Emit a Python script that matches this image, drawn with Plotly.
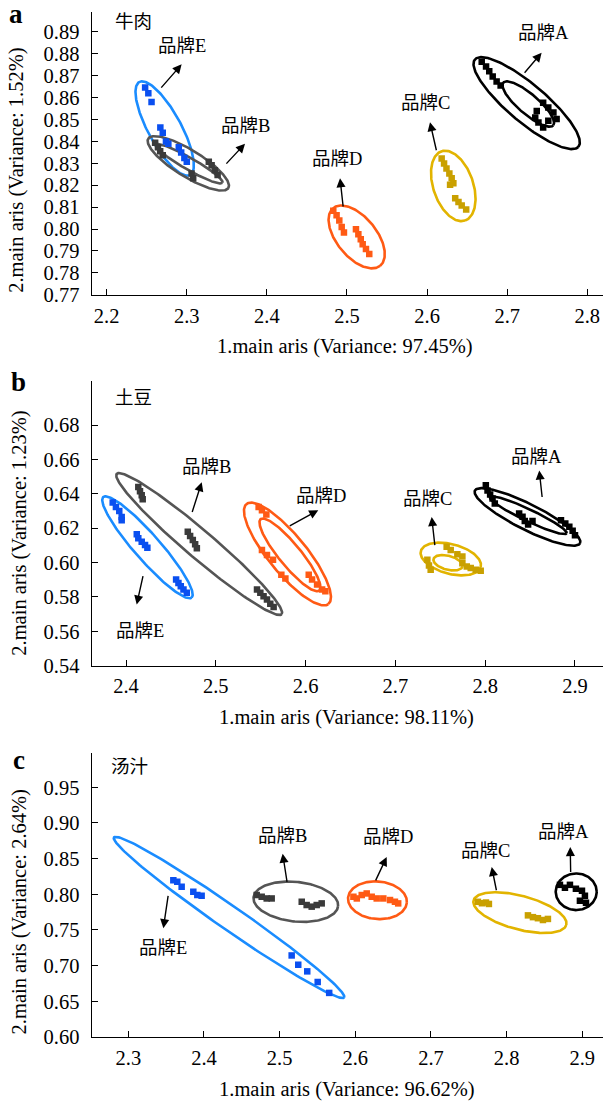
import numpy as np
import plotly.graph_objects as go

# ---------------- data ----------------
# Panel a : 牛肉
a_A_x = [2.6682, 2.6736, 2.6776, 2.6819, 2.6868, 2.6918, 2.7449, 2.7513, 2.7577, 2.7369, 2.7350, 2.7390, 2.7449, 2.7617, 2.7513]
a_A_y = [0.8764, 0.8742, 0.8720, 0.8697, 0.8674, 0.8655, 0.8577, 0.8555, 0.8532, 0.8539, 0.8509, 0.8487, 0.8464, 0.8502, 0.8495]
a_B_x = [2.2605, 2.2640, 2.2668, 2.2700, 2.3060, 2.3080, 2.3275, 2.3310, 2.3350, 2.3385]
a_B_y = [0.8394, 0.8374, 0.8355, 0.8337, 0.8254, 0.8232, 0.8307, 0.8291, 0.8269, 0.8247]
a_C_x = [2.6182, 2.6212, 2.6242, 2.6278, 2.6307, 2.6328, 2.6287, 2.6351, 2.6392, 2.6432, 2.6488]
a_C_y = [0.8322, 0.8299, 0.8277, 0.8254, 0.8232, 0.8209, 0.8202, 0.8141, 0.8123, 0.8108, 0.8089]
a_D_x = [2.4829, 2.4870, 2.4904, 2.4934, 2.4962, 2.5112, 2.5142, 2.5172, 2.5196, 2.5237, 2.5278]
a_D_y = [0.8084, 0.8063, 0.8039, 0.8009, 0.7984, 0.7999, 0.7976, 0.7954, 0.7931, 0.7909, 0.7886]
a_E_x = [2.2480, 2.2520, 2.2560, 2.2670, 2.2700, 2.2740, 2.2770, 2.2900, 2.2930, 2.2970, 2.3000]
a_E_y = [0.8646, 0.8620, 0.8580, 0.8464, 0.8440, 0.8400, 0.8390, 0.8374, 0.8350, 0.8325, 0.8307]

# Panel b : 土豆
b_A_x = [2.8007, 2.8026, 2.8055, 2.8082, 2.8107, 2.8378, 2.8416, 2.8441, 2.8478, 2.8527, 2.8844, 2.8892, 2.8937, 2.8974, 2.9000]
b_A_y = [0.6450, 0.6420, 0.6396, 0.6373, 0.6344, 0.6286, 0.6267, 0.6242, 0.6222, 0.6242, 0.6247, 0.6228, 0.6209, 0.6185, 0.6160]
b_B_x = [2.4137, 2.4156, 2.4175, 2.4186, 2.4688, 2.4714, 2.4744, 2.4770, 2.4789, 2.5459, 2.5496, 2.5532, 2.5570, 2.5607, 2.5644]
b_B_y = [0.6440, 0.6415, 0.6392, 0.6369, 0.6180, 0.6155, 0.6132, 0.6107, 0.6084, 0.5843, 0.5824, 0.5804, 0.5785, 0.5760, 0.5741]
b_C_x = [2.7356, 2.7374, 2.7393, 2.7571, 2.7616, 2.7690, 2.7746, 2.7746, 2.7795, 2.7839, 2.7895, 2.7950]
b_C_y = [0.6016, 0.5983, 0.5958, 0.6093, 0.6074, 0.6049, 0.6035, 0.5997, 0.5978, 0.5968, 0.5958, 0.5953]
b_D_x = [2.5477, 2.5514, 2.5563, 2.5514, 2.5570, 2.5637, 2.5730, 2.5775, 2.6035, 2.6072, 2.6128, 2.6184, 2.6220]
b_D_y = [0.6324, 0.6305, 0.6280, 0.6074, 0.6045, 0.6016, 0.5930, 0.5907, 0.5930, 0.5901, 0.5872, 0.5843, 0.5833]
b_E_x = [2.3852, 2.3888, 2.3925, 2.3952, 2.3952, 2.4120, 2.4137, 2.4175, 2.4212, 2.4238, 2.4558, 2.4584, 2.4610, 2.4640, 2.4677]
b_E_y = [0.6350, 0.6324, 0.6300, 0.6266, 0.6247, 0.6165, 0.6142, 0.6122, 0.6103, 0.6087, 0.5901, 0.5882, 0.5862, 0.5843, 0.5824]

# Panel c : 汤汁
c_A_x = [2.8705, 2.8771, 2.8837, 2.8916, 2.8996, 2.9035, 2.8969, 2.9049]
c_A_y = [0.8133, 0.8092, 0.8133, 0.8078, 0.8050, 0.7980, 0.7910, 0.7882]
c_B_x = [2.4697, 2.4763, 2.4829, 2.4895, 2.5292, 2.5357, 2.5424, 2.5490, 2.5556]
c_B_y = [0.7990, 0.7966, 0.7942, 0.7942, 0.7896, 0.7850, 0.7827, 0.7850, 0.7873]
c_C_x = [2.7621, 2.7674, 2.7727, 2.7766, 2.8282, 2.8348, 2.8414, 2.8480, 2.8546]
c_C_y = [0.7895, 0.7875, 0.7885, 0.7865, 0.7705, 0.7680, 0.7665, 0.7640, 0.7655]
c_D_x = [2.5975, 2.6020, 2.6085, 2.6151, 2.6217, 2.6283, 2.6370, 2.6459, 2.6524, 2.6567]
c_D_y = [0.7966, 0.7942, 0.7990, 0.8012, 0.7966, 0.7942, 0.7942, 0.7920, 0.7896, 0.7873]
c_E_x = [2.3595, 2.3647, 2.3705, 2.3859, 2.3912, 2.3969, 2.5159, 2.5246, 2.5365, 2.5503, 2.5655]
c_E_y = [0.8199, 0.8175, 0.8106, 0.8036, 0.7990, 0.7980, 0.7143, 0.7013, 0.6920, 0.6771, 0.6618]

brands = ["A", "B", "C", "D", "E"]
panel_keys = ["a", "b", "c"]
panel_foods = ["牛肉", "土豆", "汤汁"]
x_titles = ["1.main aris (Variance: 97.45%)", "1.main aris (Variance: 98.11%)", "1.main aris (Variance: 96.62%)"]
y_titles = ["2.main aris (Variance: 1.52%)", "2.main aris (Variance: 1.23%)", "2.main aris (Variance: 2.64%)"]

x_ticks = [[2.2, 2.3, 2.4, 2.5, 2.6, 2.7, 2.8],
           [2.4, 2.5, 2.6, 2.7, 2.8, 2.9],
           [2.3, 2.4, 2.5, 2.6, 2.7, 2.8, 2.9]]
y_ticks = [[0.77, 0.78, 0.79, 0.80, 0.81, 0.82, 0.83, 0.84, 0.85, 0.86, 0.87, 0.88, 0.89],
           [0.54, 0.56, 0.58, 0.60, 0.62, 0.64, 0.66, 0.68],
           [0.60, 0.65, 0.70, 0.75, 0.80, 0.85, 0.90, 0.95]]
x_ranges = [[2.1813, 2.8196], [2.3618, 2.9312], [2.2516, 2.9274]]
y_ranges = [[0.77, 0.8993], [0.54, 0.7056], [0.60, 0.9988]]

# confidence ellipses: brand, centre x, centre y (data), semi-axes (px), angle (deg)
ellipses = {
    "a": [("E", 2.2724, 0.8459, 53.4, 16.5, -61.7),
          ("B", 2.3019, 0.8300, 47.2, 13.5, -32.0),
          ("B", 2.3030, 0.8298, 38.4, 6.0, -30.0),
          ("D", 2.5121, 0.7964, 37.4, 20.0, -51.3),
          ("C", 2.6327, 0.8197, 36.9, 20.0, -71.6),
          ("A", 2.7243, 0.8575, 68.0, 19.0, -40.5),
          ("A", 2.7263, 0.8571, 33.0, 10.0, -40.9)],
    "b": [("B", 2.4815, 0.6108, 108.7, 14.0, -40.7),
          ("E", 2.4239, 0.6089, 67.3, 13.0, -49.0),
          ("D", 2.5798, 0.6050, 65.0, 19.0, -51.0),
          ("D", 2.5826, 0.6045, 46.5, 11.0, -51.0),
          ("C", 2.7617, 0.6021, 31.0, 15.0, -15.0),
          ("C", 2.7586, 0.5999, 15.0, 7.0, -15.0),
          ("A", 2.8471, 0.6266, 58.9, 13.0, -26.9),
          ("A", 2.8480, 0.6276, 42.5, 6.0, -25.6)],
    "c": [("E", 2.4331, 0.7676, 140.6, 12.0, -35.1),
          ("B", 2.5214, 0.7896, 42.5, 20.0, -6.0),
          ("D", 2.6293, 0.7917, 29.5, 19.0, -5.0),
          ("C", 2.8176, 0.7743, 48.0, 17.0, -15.0),
          ("A", 2.8920, 0.8036, 20.5, 18.5, 0.0)],
}

# brand labels: brand, text (x, y), arrow head (x, y), arrow tail (x, y)
labels = {
    "a": [("E", 2.2940, 0.8838, 2.2936, 0.8752, 2.2665, 0.8639),
          ("B", 2.3733, 0.8469, 2.3727, 0.8390, 2.3477, 0.8292),
          ("D", 2.4869, 0.8318, 2.4913, 0.8232, 2.4954, 0.8096),
          ("C", 2.5980, 0.8576, 2.6036, 0.8488, 2.6120, 0.8353),
          ("A", 2.7453, 0.8897, 2.7430, 0.8805, 2.7201, 0.8707)],
    "b": [("B", 2.4896, 0.6559, 2.4843, 0.6468, 2.4732, 0.6286),
          ("E", 2.4161, 0.5600, 2.4119, 0.5756, 2.4193, 0.5930),
          ("D", 2.6166, 0.6386, 2.6141, 0.6305, 2.5807, 0.6209),
          ("C", 2.7357, 0.6369, 2.7404, 0.6266, 2.7441, 0.6093),
          ("A", 2.8566, 0.6617, 2.8602, 0.6536, 2.8636, 0.6373)],
    "c": [("E", 2.3452, 0.7245, 2.3463, 0.7524, 2.3529, 0.8000),
          ("B", 2.5038, 0.8817, 2.5040, 0.8570, 2.5101, 0.8152),
          ("D", 2.6437, 0.8803, 2.6415, 0.8524, 2.6260, 0.8175),
          ("C", 2.7725, 0.8608, 2.7803, 0.8384, 2.7869, 0.8036),
          ("A", 2.8758, 0.8872, 2.8841, 0.8663, 2.8847, 0.8291)],
}
food_pos = [(2.2341, 0.8955), (2.4078, 0.6969), (2.3022, 0.9807)]

points = {
    "a": {"A": (a_A_x, a_A_y), "B": (a_B_x, a_B_y), "C": (a_C_x, a_C_y), "D": (a_D_x, a_D_y), "E": (a_E_x, a_E_y)},
    "b": {"A": (b_A_x, b_A_y), "B": (b_B_x, b_B_y), "C": (b_C_x, b_C_y), "D": (b_D_x, b_D_y), "E": (b_E_x, b_E_y)},
    "c": {"A": (c_A_x, c_A_y), "B": (c_B_x, c_B_y), "C": (c_C_x, c_C_y), "D": (c_D_x, c_D_y), "E": (c_E_x, c_E_y)},
}

# ---------------- styling / layout ----------------
W, H = 603, 1117
X_DOM = [91.7 / W, 1.0]
Y_DOMS = [[1 - 297.7 / H, 1 - 11.7 / H],
          [1 - 672.3 / H, 1 - 385.0 / H],
          [1 - 1047.3 / H, 1 - 760.0 / H]]
POINT_COL = {"A": "#000000", "B": "#3a3a3a", "C": "#c9a000", "D": "#ff5a14", "E": "#0a4ff0"}
ELL_COL = {"A": "#000000", "B": "#555555", "C": "#e2b400", "D": "#ff5a14", "E": "#1a8cff"}
SERIF = "Liberation Serif, 'Noto Sans CJK SC', serif"
MIX = "Liberation Serif, 'Noto Sans CJK SC'"

fig = go.Figure()
annotations = []
layout_axes = {}

for i, key in enumerate(panel_keys):
    xa = "x" if i == 0 else f"x{i+1}"
    ya = "y" if i == 0 else f"y{i+1}"
    xr, yr = x_ranges[i], y_ranges[i]
    sx = (X_DOM[1] - X_DOM[0]) * W / (xr[1] - xr[0])
    sy = (Y_DOMS[i][1] - Y_DOMS[i][0]) * H / (yr[1] - yr[0])
    t = np.linspace(0, 2 * np.pi, 200)
    for (br, cx, cy, ea, eb, ang) in ellipses[key]:
        th = np.deg2rad(ang)
        dx = ea * np.cos(t) * np.cos(th) - eb * np.sin(t) * np.sin(th)
        dy = ea * np.cos(t) * np.sin(th) + eb * np.sin(t) * np.cos(th)
        fig.add_trace(go.Scatter(x=cx + dx / sx, y=cy + dy / sy, mode="lines",
                                 line=dict(color=ELL_COL[br], width=2.6),
                                 xaxis=xa, yaxis=ya, showlegend=False, hoverinfo="skip"))
    for br in brands:
        px, py = points[key][br]
        fig.add_trace(go.Scatter(x=px, y=py, mode="markers",
                                 marker=dict(symbol="square", size=6.5, color=POINT_COL[br], line=dict(width=0)),
                                 xaxis=xa, yaxis=ya, showlegend=False, name="品牌" + br))
    axkey = "xaxis" if i == 0 else f"xaxis{i+1}"
    aykey = "yaxis" if i == 0 else f"yaxis{i+1}"
    common = dict(showline=True, linecolor="black", linewidth=1.3, ticks="inside", ticklen=6,
                  tickcolor="black", tickwidth=1.2, showgrid=False, zeroline=False, mirror=False,
                  tickfont=dict(family=SERIF, size=20.5, color="black"))
    layout_axes[axkey] = dict(domain=X_DOM, range=xr, anchor=ya, tickvals=x_ticks[i],
                              tickformat=".1f", ticklabelstandoff=2, **common)
    layout_axes[aykey] = dict(domain=Y_DOMS[i], range=yr, anchor=xa, tickvals=y_ticks[i],
                              tickformat=".2f", ticklabelstandoff=7, **common)

    for (br, tx, ty, hx, hy, qx, qy) in labels[key]:
        annotations.append(dict(x=tx, y=ty, xref=xa, yref=ya, text="品牌" + br, showarrow=False,
                                xanchor="center", yanchor="middle",
                                font=dict(family=MIX, size=18.5, color="black")))
        annotations.append(dict(x=hx, y=hy, ax=qx, ay=qy, xref=xa, yref=ya, axref=xa, ayref=ya,
                                text="", showarrow=True, arrowhead=2, arrowsize=1.3, arrowwidth=1.4,
                                arrowcolor="black", standoff=0, startstandoff=0))
    fx, fy = food_pos[i]
    annotations.append(dict(x=fx, y=fy, xref=xa, yref=ya, text=panel_foods[i], showarrow=False,
                            xanchor="center", yanchor="middle",
                            font=dict(family="'Noto Sans CJK SC'", size=18.5, color="black")))

# axis titles and panel letters (paper coordinates from pixel layout)
x_title_px = [(344.5, 350.0), (346.7, 725.0), (346.7, 1100.0)]
y_title_px = [(16.5, 172.0), (19.5, 538.5), (19.5, 921.0)]
letter_px = [(16.0, 14.0), (18.0, 386.0), (18.5, 768.0)]
for i in range(3):
    xp, yp = x_title_px[i]
    annotations.append(dict(x=xp / W, y=1 - yp / H, xref="paper", yref="paper", text=x_titles[i],
                            xanchor="center", yanchor="middle",
                            showarrow=False, font=dict(family=SERIF, size=20.5, color="black")))
    xp, yp = y_title_px[i]
    annotations.append(dict(x=xp / W, y=1 - yp / H, xref="paper", yref="paper", text=y_titles[i],
                            xanchor="center", yanchor="middle",
                            textangle=-90, showarrow=False, font=dict(family=SERIF, size=20.5, color="black")))
    xp, yp = letter_px[i]
    annotations.append(dict(x=xp / W, y=1 - yp / H, xref="paper", yref="paper",
                            text="<b>" + panel_keys[i] + "</b>", xanchor="center", yanchor="middle",
                            showarrow=False, font=dict(family=SERIF, size=27, color="black")))

fig.update_layout(width=W, height=H, margin=dict(l=0, r=0, t=0, b=0),
                  paper_bgcolor="white", plot_bgcolor="white", showlegend=False,
                  annotations=annotations, **layout_axes)

fig.write_html("out.html")
